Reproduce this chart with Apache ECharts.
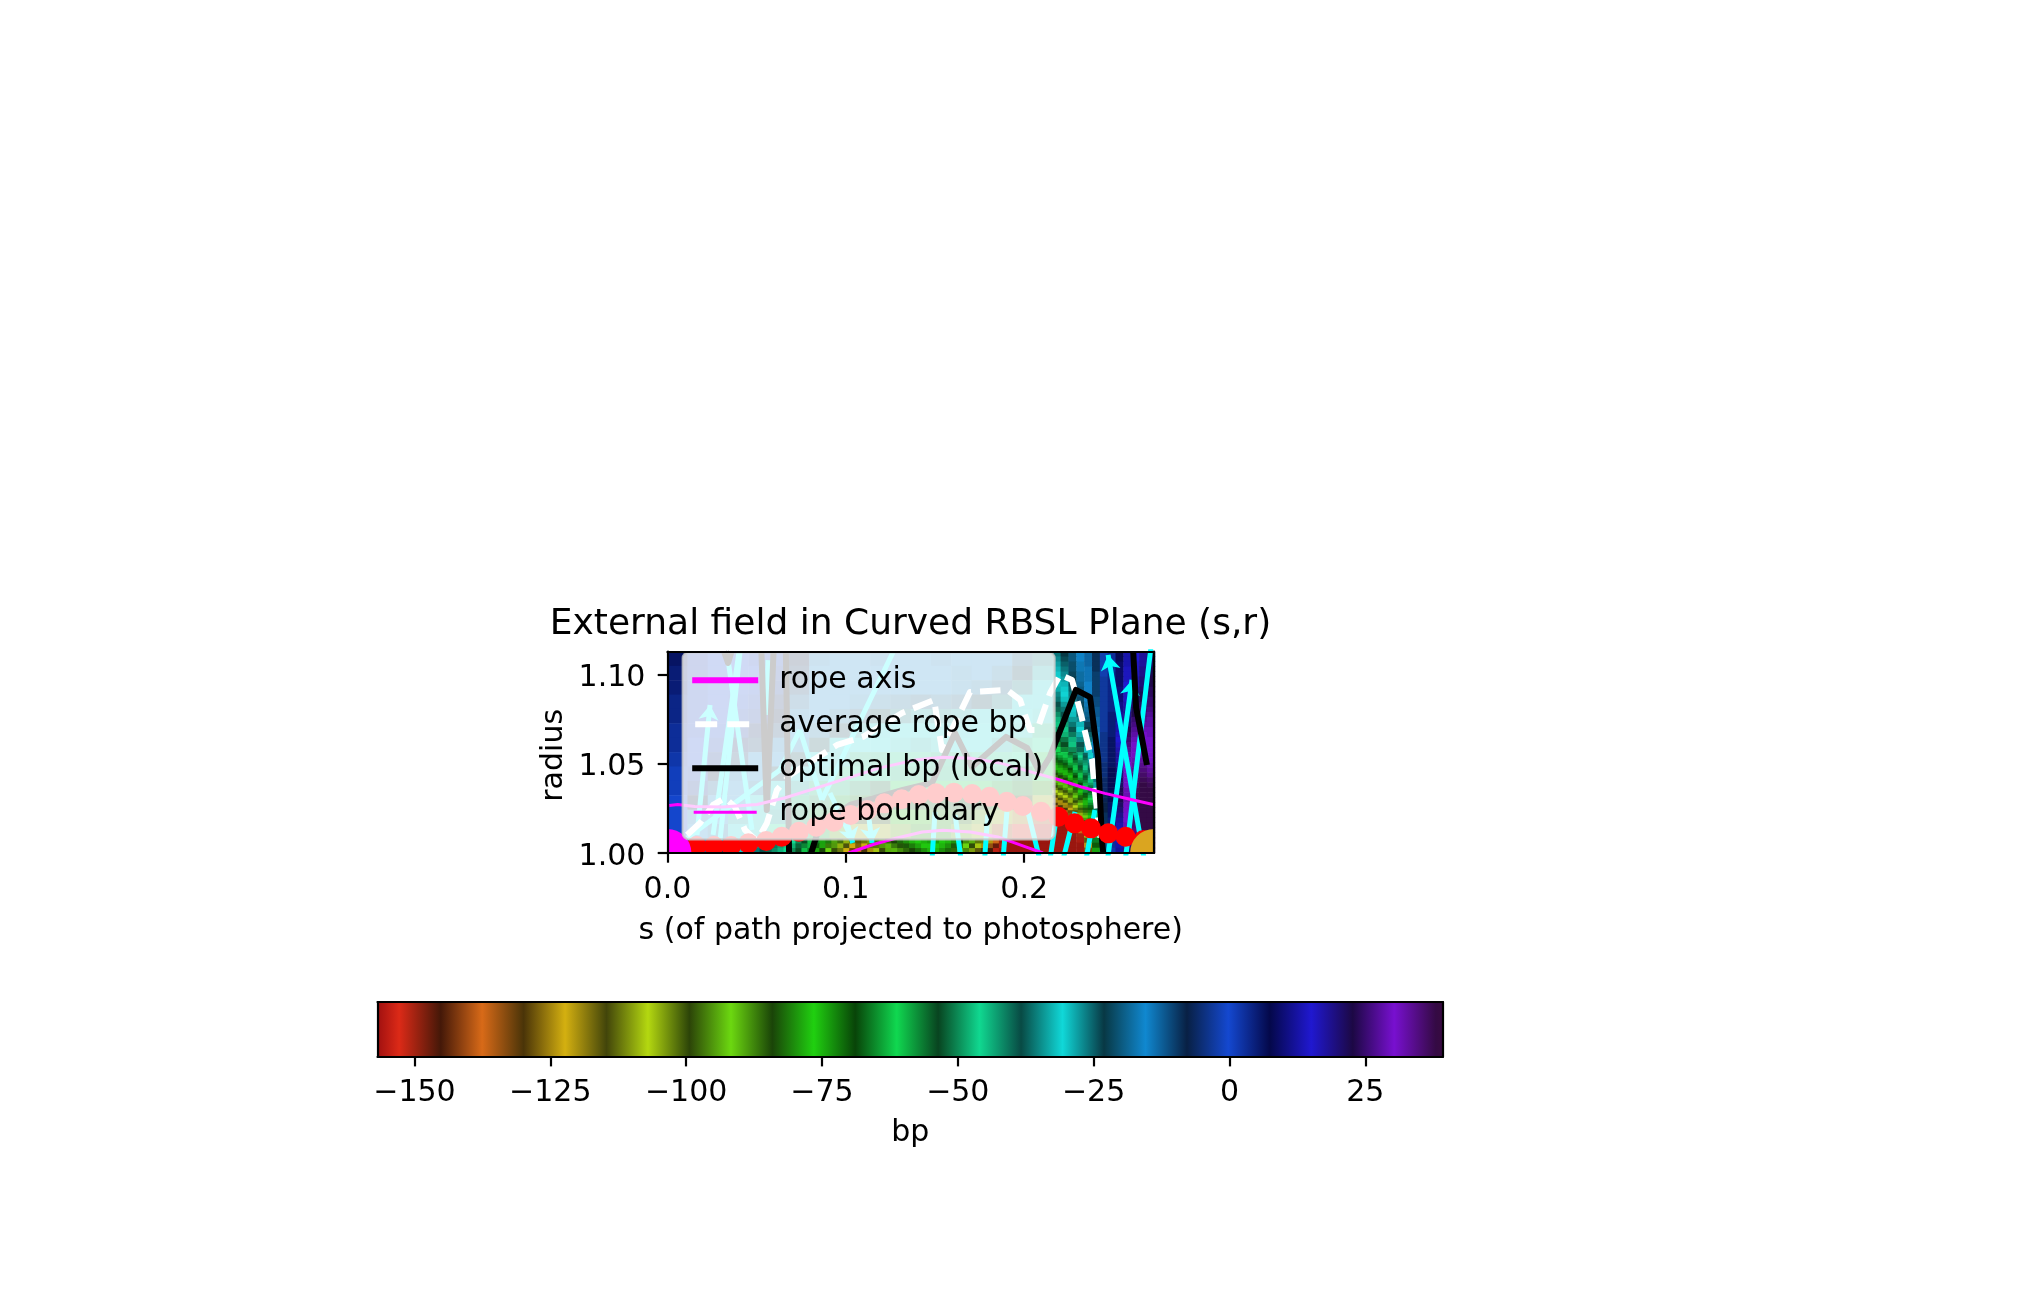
<!DOCTYPE html>
<html>
<head>
<meta charset="utf-8">
<title>External field in Curved RBSL Plane</title>
<script src="https://cdn.jsdelivr.net/npm/echarts@6/dist/echarts.min.js"></script>
<style>
html, body { margin: 0; padding: 0; background: #fff; }
#main { width: 2031px; height: 1295px; }
</style>
</head>
<body>
<div id="main"></div>
<script>
// axis ranges and ticks
var sMin = 0, sMax = 0.2728;
var rMin = 1, rMax = 1.1127;
var sTicks = [0, 0.1, 0.2];
var rTicks = [1, 1.05, 1.1];
var bpMin = -156.8, bpMax = 39.3;
var bpTicks = [-150, -125, -100, -75, -50, -25, 0, 25];

// colormap, equal steps from cmapLow to cmapHigh
var cmapLow = -160.43, cmapHigh = 45.58;
var cmapColors = ['#640808', '#dc2a17', '#441808', '#d86a18', '#4a3408', '#d4b010', '#42450a',
    '#b4d810', '#2c4408', '#6cd810', '#1a4408', '#20d010', '#084408', '#10d850', '#084420',
    '#10d890', '#084a44', '#10d8d8', '#083844', '#1088d0', '#082044', '#1448d0', '#04084a',
    '#2018d0', '#1c0844', '#7810d0', '#340a44', '#7810d0'];
var cmapEndLow = '#a01010', cmapEndHigh = '#380a40';

// field behind the legend, rows from the top, read coarsely through the legend tint
var fieldCoarse = [
    [6, 2, 0, 0, 1, -2, -8, -14, -15, -15, -14, -16, -15, -14, -16, -15, -16, -20, -26],
    [5, 2, 0, 0, 0, -3, -9, -15, -16, -15, -15, -16, -15, -15, -17, -16, -18, -22, -28],
    [5, 1, 0, 0, -1, -4, -10, -15, -16, -16, -16, -16, -16, -16, -17, -18, -20, -26, -30],
    [4, 1, 0, -1, -2, -6, -12, -15, -16, -17, -18, -19, -20, -19, -20, -22, -26, -30, -30],
    [4, 1, 0, -2, -3, -8, -14, -16, -18, -20, -24, -26, -28, -27, -28, -30, -30, -31, -32],
    [3, 1, -1, -3, -6, -10, -15, -18, -22, -28, -30, -31, -31, -31, -30, -31, -31, -32, -44],
    [3, 0, -2, -6, -10, -14, -17, -24, -30, -31, -31, -32, -33, -32, -31, -31, -33, -44, -46],
    [2, 0, -4, -10, -15, -16, -24, -31, -32, -44, -44, -45, -45, -44, -44, -45, -45, -46, -60],
    [1, -2, -8, -14, -16, -22, -30, -32, -45, -46, -46, -48, -48, -48, -48, -48, -48, -50, -62],
    [1, -4, -12, -15, -18, -30, -34, -48, -48, -50, -52, -62, -62, -62, -62, -62, -64, -66, -80],
    [0, -8, -15, -16, -30, -33, -48, -50, -64, -66, -66, -68, -68, -68, -68, -70, -80, -84, -110],
    [0, -14, -16, -28, -32, -34, -50, -64, -80, -84, -84, -78, -78, -80, -82, -95, -110, -126, -141],
    [0, -15, -18, -30, -32, -46, -48, -64, -95, -110, -110, -95, -80, -80, -95, -110, -141, -152, -156],
    [-2, -16, -24, -31, -33, -46, -48, -64, -95, -126, -141, -110, -95, -80, -80, -95, -126, -156, -157]
];

// strip under the legend's lower edge, rows from the top
var fieldBottom = [
    [-3,-6,-8,-12,-16,-18,-20,-23,-26,-28,-30,-32,-34,-36,-38,-40,-42,-44,-46,-50,-54,-60,-66,-74,-81,-89,-97,-105,-112,-116,-112,-104,-96,-90,-86,-84,-82,-80,-78,-76,-75,-74,-74,-76,-78,-80,-84,-88,-94,-102,-112,-124,-138,-150,-156,-157,-157,-157,-157,-157,-157,-157],
    [-4,-7,-9,-13,-17,-19,-21,-24,-27,-29,-31,-33,-35,-37,-39,-41,-43,-45,-48,-52,-57,-63,-70,-79,-87,-95,-105,-114,-122,-127,-122,-112,-102,-95,-90,-87,-85,-83,-81,-79,-77,-76,-76,-78,-80,-83,-87,-92,-99,-108,-120,-134,-147,-155,-157,-157,-157,-157,-157,-157,-157,-157],
    [-5,-8,-10,-14,-18,-20,-22,-25,-28,-30,-32,-34,-36,-38,-40,-42,-44,-46,-50,-54,-60,-66,-74,-84,-92,-100,-112,-122,-132,-137,-130,-120,-108,-100,-94,-90,-88,-86,-84,-82,-80,-78,-78,-80,-82,-86,-90,-96,-104,-116,-130,-145,-155,-157,-157,-157,-157,-157,-157,-157,-157,-157]
];

// part right of the legend, one list per column, values from the top down
var fieldRight = [
    [-26,-27,-28,-29,-30,-31,-32,-33,-35,-36,-38,-40,-42,-44,-47,-49,-52,-55,-58,-61,-65,-70,-74,-80,-86,-92,-99,-106,-114,-124,-136,-148,-156,-157,-157,-157,-157,-157,-157,-157],
    [-23,-24,-25,-26,-27,-28,-29,-30,-31,-32,-34,-36,-38,-40,-43,-45,-48,-51,-54,-57,-61,-66,-70,-75,-81,-87,-94,-101,-109,-118,-129,-141,-152,-157,-157,-157,-157,-157,-157,-157],
    [-20,-20,-21,-21,-22,-23,-24,-25,-26,-27,-29,-30,-32,-34,-36,-38,-41,-44,-47,-50,-54,-58,-62,-67,-72,-78,-85,-92,-100,-108,-118,-128,-140,-150,-156,-157,-157,-157,-157,-157],
    [-16,-16,-17,-17,-18,-18,-19,-20,-20,-21,-22,-24,-25,-27,-29,-31,-33,-35,-38,-40,-43,-47,-50,-54,-59,-64,-70,-76,-83,-90,-98,-106,-114,-122,-132,-140,-150,-156,-157,-157],
    [-13,-13,-13,-14,-14,-14,-15,-15,-16,-16,-17,-18,-19,-20,-22,-23,-25,-26,-28,-30,-32,-35,-37,-40,-43,-47,-51,-56,-60,-65,-70,-76,-82,-88,-94,-101,-108,-116,-124,-128],
    [-9,-9,-9,-9,-10,-10,-10,-10,-10,-11,-11,-12,-12,-13,-13,-14,-15,-15,-16,-17,-18,-19,-21,-22,-24,-26,-28,-30,-33,-35,-38,-41,-44,-48,-52,-56,-61,-66,-70,-74],
    [-2,-2,-2,-2,-2,-3,-3,-3,-3,-3,-3,-3,-3,-3,-3,-3,-4,-4,-4,-4,-4,-4,-5,-5,-5,-6,-6,-6,-7,-7,-8,-8,-9,-9,-10,-10,-11,-12,-13,-14],
    [3,3,3,3,4,4,4,4,4,4,4,4,5,5,5,5,5,6,6,6,6,6,6,7,7,7,7,7,7,7,6,6,6,5,5,4,4,3,3,2],
    [8,8,9,9,9,9,9,10,10,10,11,11,12,12,13,13,14,15,16,17,18,18,19,20,20,21,21,22,22,22,21,20,19,18,17,16,15,14,13,12],
    [13,13,13,14,14,14,15,15,16,16,17,18,19,20,21,23,24,25,26,27,28,29,30,30,31,31,31,32,32,32,31,31,30,30,29,28,27,26,25,24],
    [15,15,16,16,16,17,17,18,19,20,21,22,23,25,26,27,28,29,30,31,31,32,33,34,35,36,36,37,37,37,37,37,37,36,36,35,35,34,34,33],
    [18,18,18,19,19,20,20,21,22,23,24,25,26,27,28,29,30,30,31,31,32,33,34,35,36,37,38,38,38,38,38,38,38,38,38,38,38,37,37,37],
    [21,21,21,22,22,23,23,24,24,25,25,26,27,28,28,29,29,30,30,30,31,31,32,33,34,36,37,38,38,38,38,38,38,38,38,38,38,38,38,38]
];

// ringed patch right of the legend, finer rows, one list per column, from the top down
var fieldRings = [
    [-64,-66,-68,-71,-73,-75,-78,-81,-84,-87,-90,-93,-96,-100,-103,-107,-111,-115,-120,-125,-130,-136,-142,-148,-153,-156,-157,-157,-157,-157,-157,-157],
    [-62,-64,-66,-68,-71,-73,-75,-78,-81,-84,-87,-90,-93,-96,-100,-103,-107,-111,-115,-120,-125,-130,-136,-142,-148,-153,-156,-157,-157,-157,-157,-157],
    [-60,-62,-64,-66,-68,-71,-73,-75,-78,-81,-84,-87,-90,-93,-96,-100,-103,-107,-111,-115,-120,-125,-130,-136,-142,-148,-153,-156,-157,-157,-157,-157],
    [-56,-58,-60,-62,-64,-66,-69,-71,-74,-76,-79,-82,-85,-88,-91,-95,-98,-102,-105,-109,-113,-118,-123,-128,-134,-140,-146,-152,-156,-157,-157,-157],
    [-50,-52,-54,-56,-58,-60,-62,-64,-67,-69,-72,-74,-77,-80,-83,-86,-89,-92,-96,-99,-103,-107,-111,-116,-121,-126,-131,-137,-143,-149,-154,-157],
    [-44,-46,-48,-50,-51,-53,-55,-57,-60,-62,-64,-66,-69,-71,-74,-76,-79,-82,-85,-88,-91,-95,-98,-102,-105,-109,-113,-117,-122,-127,-132,-137],
    [-37,-39,-40,-42,-43,-45,-47,-49,-51,-53,-55,-57,-59,-61,-63,-65,-68,-70,-73,-75,-78,-80,-83,-86,-89,-92,-95,-98,-102,-105,-109,-113],
    [-30,-31,-33,-34,-36,-37,-39,-40,-42,-44,-45,-47,-49,-51,-53,-55,-57,-59,-61,-63,-65,-67,-70,-72,-74,-77,-80,-82,-85,-88,-91,-94]
];

// rope axis, s and r of each red marker
var axisS = [0.0058, 0.0164, 0.0261, 0.0357, 0.0454, 0.0554, 0.0641, 0.0737, 0.0834, 0.0932, 0.1027, 0.112, 0.1216, 0.1313, 0.1409, 0.1506, 0.1606, 0.1708, 0.1805, 0.1902, 0.1992, 0.2095, 0.2191, 0.2282, 0.2375, 0.2471, 0.2568, 0.2668];
var axisR = [1.0039, 1.0039, 1.0039, 1.0039, 1.0054, 1.0067, 1.0091, 1.0119, 1.0147, 1.0175, 1.0213, 1.0241, 1.0278, 1.0301, 1.0325, 1.0334, 1.0338, 1.033, 1.0315, 1.0287, 1.0263, 1.0231, 1.0203, 1.0166, 1.0138, 1.011, 1.0091, 1.0073];

// rope boundary, upper and lower
var upperS = [0.001, 0.0058, 0.0154, 0.031, 0.0502, 0.0656, 0.0811, 0.1004, 0.1197, 0.139, 0.1544, 0.1699, 0.1873, 0.2066, 0.2181, 0.2317, 0.2452, 0.2587, 0.2722];
var upperR = [1.0266, 1.0272, 1.026, 1.0257, 1.0272, 1.0308, 1.0356, 1.0418, 1.0478, 1.0521, 1.0536, 1.053, 1.0502, 1.0446, 1.0414, 1.0371, 1.0334, 1.0302, 1.0272];
var lowerS = [0.1015, 0.1023, 0.1158, 0.1274, 0.1429, 0.1544, 0.1699, 0.1853, 0.2008, 0.2105];
var lowerR = [1, 1.0006, 1.0049, 1.0081, 1.0118, 1.0127, 1.0118, 1.009, 1.0034, 1];

// average rope bp
var avgS = [0.011, 0.0183, 0.0256, 0.0323, 0.0379, 0.0435, 0.0502, 0.0558, 0.0614, 0.0687, 0.0951, 0.1096, 0.1315, 0.1495, 0.1539, 0.164, 0.1696, 0.1904, 0.1977, 0.2033, 0.2072, 0.2145, 0.2201, 0.2268, 0.2319, 0.2358, 0.238, 0.2397, 0.2408, 0.2431];
var avgR = [1.0101, 1.0168, 1.0269, 1.0308, 1.0258, 1.0129, 1.0067, 1.0168, 1.0353, 1.0437, 1.0605, 1.065, 1.0784, 1.0857, 1.0577, 1.0784, 1.0901, 1.0913, 1.0857, 1.0689, 1.0689, 1.0896, 1.0997, 1.0969, 1.0773, 1.0605, 1.0521, 1.0336, 1.0241, 1.0062];

// optimal bp, null breaks the line where it leaves the axes
var optS = [0.0318, 0.034, 0.0359, null, 0.0527, 0.0557, 0.0595, null, 0.0664, 0.0682, null, 0.0806, 0.0855, 0.1024, 0.1164, 0.132, 0.1483, 0.1612, 0.1707, 0.1898, 0.2016, 0.2088, 0.2144, 0.229, 0.2369, 0.2414, 0.2436, 0.2443, null, 0.2611, 0.2627, 0.2688];
var optR = [1.1127, 1.1064, 1.1127, null, 1.1127, 1.0241, 1.1127, null, 1.1127, 1, null, 1, 1.0157, 1.0269, 1.0308, 1.0353, 1.0392, 1.0672, 1.0482, 1.065, 1.0588, 1.0448, 1.0538, 1.0913, 1.0873, 1.0532, 1.0073, 1, null, 1.1127, 1.0817, 1.0493];

// cyan segments as [s0, r0, s1, r1], the arrow list has its head at the second point
var cyanArrows = [
    [0.2683, 0.9905, 0.247, 1.1109],
    [0.2459, 0.9905, 0.2604, 1.0969],
    [0.0166, 1.0101, 0.0239, 1.0829],
    [0.0995, 1.0213, 0.1039, 1.0056],
    [0.1124, 1.0241, 0.1147, 1.0056]
];
var cyanPlain = [
    [0.256, 0.9905, 0.2715, 1.119],
    [0.0256, 1.0101, 0.0401, 1.1125],
    [0.0334, 1.1125, 0.0474, 1.0129],
    [0.0407, 1.1125, 0.0295, 1.0073],
    [0.0564, 1.108, 0.0558, 1.0773],
    [0.011, 1.0084, 0.0631, 1.0465],
    [0.0631, 1.0465, 0.0743, 1.0689],
    [0.0743, 1.0689, 0.0866, 1.0297],
    [0.0866, 1.0297, 0.1265, 1.1125],
    [0.0911, 1.0336, 0.1024, 1.0101],
    [0.1483, 0.9961, 0.15, 1.023],
    [0.1646, 0.9961, 0.1613, 1.0213],
    [0.1778, 0.9961, 0.1795, 1.0213],
    [0.1881, 0.9961, 0.1903, 1.023],
    [0.2088, 0.9961, 0.2021, 1.023],
    [0.2144, 0.9961, 0.2178, 1.0185],
    [0.2217, 0.9961, 0.2285, 1.023],
    [0.2346, 0.9961, 0.2396, 1.0241]
];

var FONT = 'DejaVu Sans';
var LABEL_SIZE = 30;
var TICK_W = 2.2;

// legend handles, the two zero length runs only fix the box to 66x30
var HANDLE_BOX = 'M0 0L0 0M66 30L66 30';
var ICON_THICK = 'path://' + HANDLE_BOX + 'M0 12H66V18H0Z';
var ICON_THIN = 'path://' + HANDLE_BOX + 'M1.5 13.5H64.5V16.5H1.5Z';
var ICON_DASH = 'path://' + HANDLE_BOX + 'M3 12H25V18H3ZM35 12H57V18H35Z';

function zip(xs, ys) {
    return xs.map(function (x, i) {
        return x === null ? [null, null] : [x, ys[i]];
    });
}

function indexList(n) {
    var a = [];
    for (var i = 0; i < n; i++) a.push(i);
    return a;
}

// rows come top first, the category y axis runs bottom up
function heatCells(rows) {
    var cells = [];
    rows.forEach(function (row, r) {
        row.forEach(function (v, c) {
            cells.push([c, rows.length - 1 - r, v]);
        });
    });
    return cells;
}

function columnsToRows(cols) {
    return cols[0].map(function (_, r) {
        return cols.map(function (col) { return col[r]; });
    });
}

function segData(list) {
    return list.map(function (s) {
        return { coords: [[s[0], s[1]], [s[2], s[3]]] };
    });
}

function cbarGradient() {
    var step = (cmapHigh - cmapLow) / (cmapColors.length - 1);
    var stops = [{ offset: 0, color: cmapEndLow }];
    cmapColors.forEach(function (color, i) {
        var v = cmapLow + i * step;
        if (v > bpMin && v < bpMax) {
            stops.push({ offset: (v - bpMin) / (bpMax - bpMin), color: color });
        }
    });
    stops.push({ offset: 1, color: cmapEndHigh });
    return new echarts.graphic.LinearGradient(0, 0, 1, 0, stops);
}

var rightRows = columnsToRows(fieldRight);
var ringRows = columnsToRows(fieldRings);

// hidden category axis for a heatmap
function bandAxis(gridIndex, n) {
    return { type: 'category', gridIndex: gridIndex, data: indexList(n), show: false };
}

// frame only axis for the top and right spines
function frameAxis(gridIndex, position, min, max) {
    return {
        type: 'value', gridIndex: gridIndex, position: position, min: min, max: max, z: 5,
        axisLine: { show: true, onZero: false, lineStyle: { color: '#000', width: TICK_W } },
        axisTick: { show: false }, axisLabel: { show: false }, splitLine: { show: false }
    };
}

function tickAxis(gridIndex, position, min, max, ticks, fmt, name, nameGap) {
    var axis = frameAxis(gridIndex, position, min, max);
    axis.axisTick = { show: true, length: 9.7, customValues: ticks, lineStyle: { color: '#000', width: TICK_W } };
    axis.axisLabel = {
        show: true, customValues: ticks, formatter: fmt, margin: 22,
        color: '#000', fontFamily: FONT, fontSize: LABEL_SIZE
    };
    axis.name = name;
    axis.nameLocation = 'middle';
    axis.nameGap = nameGap;
    axis.nameTextStyle = { color: '#000', fontFamily: FONT, fontSize: LABEL_SIZE };
    return axis;
}

function heatSeries(index, rows) {
    return {
        type: 'heatmap', xAxisIndex: index, yAxisIndex: index, z: 1,
        data: heatCells(rows), progressive: 0, animation: false
    };
}

function lineSeries(name, s, r, color, width, dash) {
    return {
        name: name, type: 'line', xAxisIndex: 4, yAxisIndex: 4, z: 2,
        data: zip(s, r), symbol: 'none', connectNulls: false, smooth: false,
        itemStyle: { color: color },
        lineStyle: { color: color, width: width, type: dash || 'solid', cap: 'butt', join: 'round' }
    };
}

// discs cut off by the axes frame, scatter would not crop them
function discSeries(points, radius, color) {
    return {
        type: 'custom', coordinateSystem: 'cartesian2d', xAxisIndex: 4, yAxisIndex: 4, z: 3,
        clip: true, data: points, encode: { x: 0, y: 1 },
        renderItem: function (params, api) {
            var p = api.coord([api.value(0), api.value(1)]);
            return { type: 'circle', shape: { cx: p[0], cy: p[1], r: radius }, style: { fill: color } };
        }
    };
}

var yAxisMain = tickAxis(4, 'left', rMin, rMax, rTicks, function (v) { return '{t|' + v.toFixed(2) + '}'; }, 'radius', 98);
yAxisMain.axisLabel.rich = { t: { padding: [8, 0, 0, 0], color: '#000', fontFamily: FONT, fontSize: LABEL_SIZE } };
yAxisMain.nameTextStyle.padding = [0, 6, 0, 0];

var option = {
    animation: false,
    backgroundColor: '#fff',
    title: {
        text: 'External field in Curved RBSL Plane (s,r)',
        left: 905.5, top: 602, textAlign: 'center',
        textStyle: { color: '#000', fontFamily: FONT, fontSize: 36, fontWeight: 'normal' }
    },
    legend: {
        show: true, orient: 'vertical', left: 682.7, top: 652.3, z: 4,
        data: [
            { name: 'rope axis', icon: ICON_THICK },
            { name: 'average rope bp', icon: ICON_DASH },
            { name: 'optimal bp (local)', icon: ICON_THICK },
            { name: 'rope boundary', icon: ICON_THIN }
        ],
        itemWidth: 66, itemHeight: 30, itemGap: 14, symbolKeepAspect: false,
        padding: [13, 11.5, 12, 9.5],
        backgroundColor: 'rgba(255,255,255,0.8)',
        borderColor: 'rgba(204,204,204,0.8)', borderWidth: 2.2, borderRadius: 6,
        selectedMode: false,
        textStyle: { color: '#000', fontFamily: FONT, fontSize: LABEL_SIZE, padding: [0, 0, 0, 16] }
    },
    visualMap: {
        show: false, type: 'continuous', min: cmapLow, max: cmapHigh,
        seriesIndex: [0, 1, 2, 3], inRange: { color: cmapColors }
    },
    grid: [
        { left: 667.4, top: 651.7, width: 385.6, height: 201.3 },
        { left: 1053, top: 651.7, width: 102, height: 201.3 },
        { left: 682, top: 839, width: 371, height: 14 },
        { left: 1053, top: 753, width: 40, height: 80 },
        { left: 667.4, top: 651.7, width: 486.7, height: 201.3 },
        { left: 377.5, top: 1002, width: 1065.5, height: 54.7 }
    ],
    xAxis: [
        bandAxis(0, fieldCoarse[0].length),
        bandAxis(1, rightRows[0].length),
        bandAxis(2, fieldBottom[0].length),
        bandAxis(3, ringRows[0].length),
        tickAxis(4, 'bottom', sMin, sMax, sTicks, function (v) { return v === 0 ? '0.0' : String(v); },
            's (of path projected to photosphere)', 63),
        frameAxis(4, 'top', sMin, sMax),
        tickAxis(5, 'bottom', bpMin, bpMax, bpTicks, function (v) { return String(v).replace('-', '\u2212'); },
            'bp', 62),
        frameAxis(5, 'top', bpMin, bpMax)
    ],
    yAxis: [
        bandAxis(0, fieldCoarse.length),
        bandAxis(1, rightRows.length),
        bandAxis(2, fieldBottom.length),
        bandAxis(3, ringRows.length),
        yAxisMain,
        frameAxis(4, 'right', rMin, rMax),
        frameAxis(5, 'left', 0, 1),
        frameAxis(5, 'right', 0, 1)
    ],
    series: [
        heatSeries(0, fieldCoarse),
        heatSeries(1, rightRows),
        heatSeries(2, fieldBottom),
        heatSeries(3, ringRows),
        {
            type: 'lines', coordinateSystem: 'cartesian2d', xAxisIndex: 4, yAxisIndex: 4, z: 2, clip: true,
            symbol: ['none', 'arrow'], symbolSize: 15,
            lineStyle: { color: '#00ffff', width: 5, opacity: 1 },
            data: segData(cyanArrows)
        },
        {
            type: 'lines', coordinateSystem: 'cartesian2d', xAxisIndex: 4, yAxisIndex: 4, z: 2, clip: true,
            lineStyle: { color: '#00ffff', width: 5, opacity: 1 },
            data: segData(cyanPlain)
        },
        lineSeries('average rope bp', avgS, avgR, '#ffffff', 6, [20.5, 9]),
        lineSeries('optimal bp (local)', optS, optR, '#000000', 6),
        lineSeries('rope axis', axisS, axisR, '#ff00ff', 6),
        lineSeries('rope boundary', upperS, upperR, '#ff00ff', 3),
        lineSeries('rope boundary', lowerS, lowerR, '#ff00ff', 3),
        discSeries(zip(axisS, axisR), 10, '#ff0000'),
        discSeries([[sMin, rMin]], 24, '#ff00ff'),
        discSeries([[sMax, rMin]], 24, '#daa520'),
        {
            // colour bar
            type: 'line', xAxisIndex: 6, yAxisIndex: 6, data: [], silent: true, z: 2,
            markArea: {
                silent: true,
                itemStyle: { color: cbarGradient(), opacity: 1 },
                data: [[{ xAxis: bpMin, yAxis: 0 }, { xAxis: bpMax, yAxis: 1 }]]
            }
        }
    ]
};

var chart = echarts.init(document.getElementById('main'), null, { renderer: 'canvas' });
chart.setOption(option);
</script>
</body>
</html>
